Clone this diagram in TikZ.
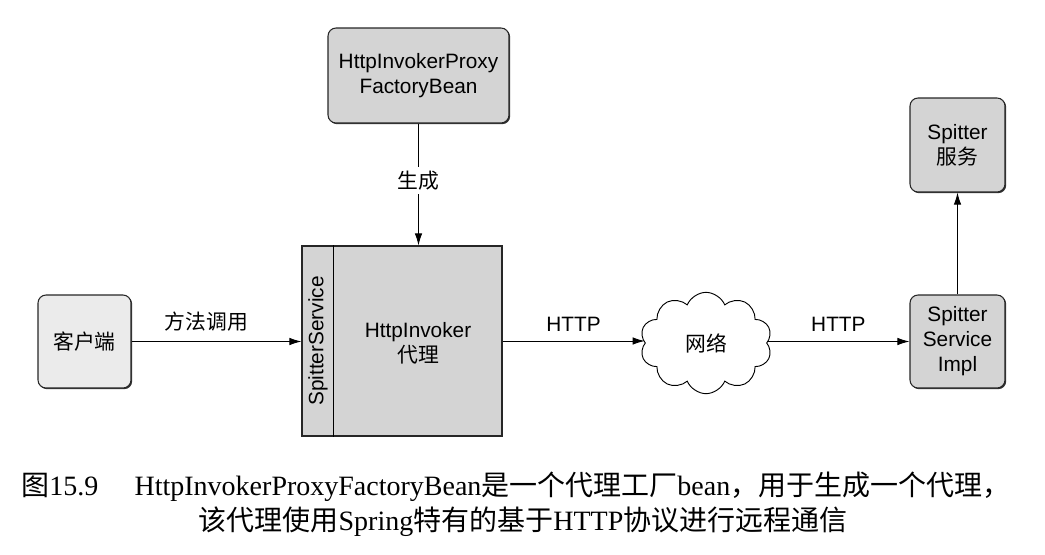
\documentclass[tikz,border=0pt]{standalone}
\usepackage{fontspec}
\setmainfont{Liberation Sans}
\newfontfamily\cjk{Noto Sans CJK SC}
\newfontfamily\capserif{Liberation Serif}
\usetikzlibrary{arrows.meta,shapes.symbols,shadows}
\newcommand\diafont{\fontsize{15.6}{18.75}\selectfont}
\newcommand\capfont{\capserif\fontsize{21}{26}\selectfont}

\begin{document}
\begin{tikzpicture}[x=0.75pt,y=-0.75pt,
    box/.style={draw=black!85,line width=0.8pt,rounded corners=6pt,fill=black!17,align=center,font=\diafont,
      drop shadow={shadow xshift=0.9pt,shadow yshift=-0.9pt,fill=black!80,opacity=1}},
    flow/.style={-{Latex[length=9pt,width=5.6pt]},line width=0.7pt},
    lbl/.style={font=\diafont,inner sep=1pt}]
  \useasboundingbox (0,0) rectangle (1045,554);

  \node[box,fill=black!8,minimum width=69.75pt,minimum height=69.75pt] (client) at (84.5,341.5) {\cjk 客户端};
  \node[box,minimum width=135.75pt,minimum height=71.25pt] (factory) at (418.5,75.5) {HttpInvokerProxy\\FactoryBean};
  \node[box,rounded corners=0pt,minimum width=150pt,minimum height=142.5pt] (proxy) at (402,341) {};
  \draw[line width=0.5pt] ([xshift=24pt]proxy.north west) -- ([xshift=24pt]proxy.south west);
  \node[lbl,rotate=90] (iface) at (318,341) {SpitterService};
  \node[lbl,align=center] (proxytxt) at (418,343) {HttpInvoker\\{\cjk 代理}};
  \node[cloud,draw,line width=0.7pt,cloud puffs=10,cloud puff arc=135,cloud ignores aspect,
        minimum width=99pt,minimum height=76pt,font=\diafont] (net) at (706,343) {\cjk 网络};
  \node[box,minimum width=71.25pt,minimum height=70.5pt] (svc) at (957.5,145) {Spitter\\{\cjk 服务}};
  \node[box,minimum width=71.25pt,minimum height=69.75pt] (impl) at (957.5,341.5) {Spitter\\Service\\Impl};

  \draw[flow] (client.east) -- node[lbl,above=6pt,pos=0.44] {\cjk 方法调用} (client.east -| proxy.west);
  \draw[flow] (factory.south) -- node[lbl,fill=white,inner sep=3pt,pos=0.47] {\cjk 生成} (factory.south |- proxy.north);
  \draw[flow] (proxy.east) -- node[lbl,above=6pt] {HTTP} (proxy.east -| net.west);
  \draw[flow] (net.east |- impl.west) -- node[lbl,above=6pt] {HTTP} (impl.west);
  \draw[flow] (impl.north) -- (svc.south);

  % caption
  \node[anchor=west,inner sep=0pt,font=\capfont] (cap1) at (21,487)
    {{\cjk 图}15.9\hspace{1.3em}HttpInvokerProxyFactoryBean{\cjk 是一个代理工厂}bean{\cjk ，用于生成一个代理，}};
  \node[inner sep=0pt,font=\capfont] (cap2) at (523,522)
    {{\cjk 该代理使用}Spring{\cjk 特有的基于}HTTP{\cjk 协议进行远程通信}};
\end{tikzpicture}
\end{document}
